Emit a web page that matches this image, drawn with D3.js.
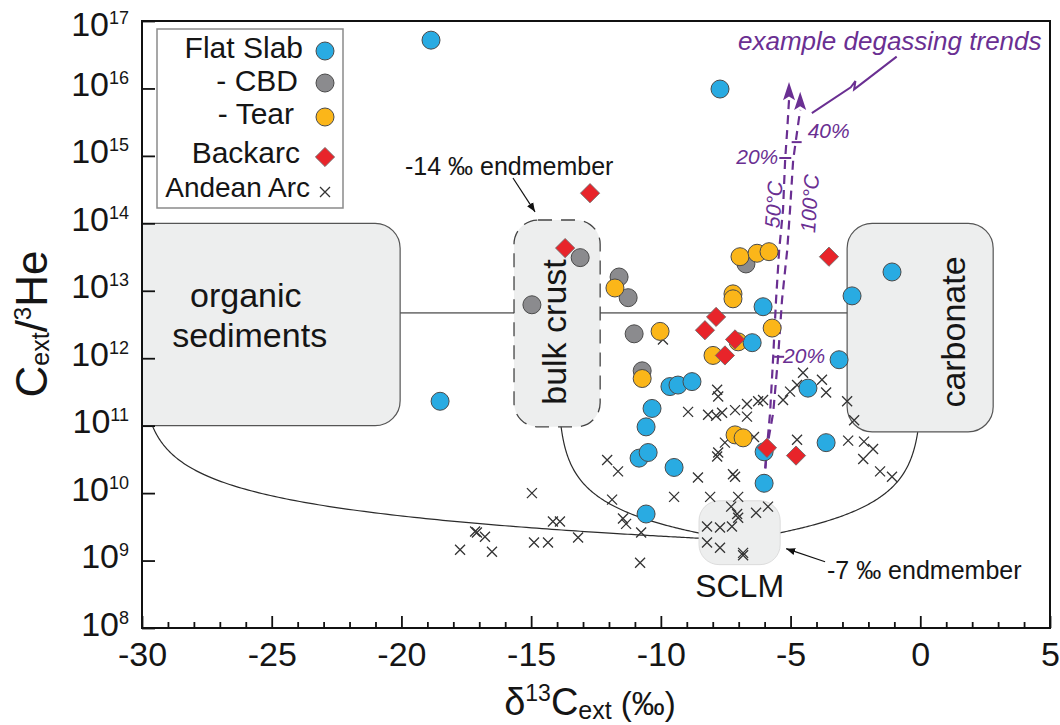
<!DOCTYPE html>
<html>
<head>
<meta charset="utf-8">
<script src="https://cdn.jsdelivr.net/npm/d3@7"></script>
<style>
  body { margin: 0; background: #fff; }
  svg { display: block; font-family: "Liberation Sans", Arial, sans-serif; }
</style>
</head>
<body>
<svg id="chart" width="1060" height="725"></svg>
<script>
// ---- data: [δ13C_ext (‰), C_ext/3He] ----
const flatSlab = [
  [-18.86, 5.2e16], [-7.72, 9.8e15], [-18.51, 2.3e11], [-1.09, 1.9e13], [-2.63, 8.4e12],
  [-6.06, 5.8e12], [-6.48, 1.7e12], [-3.13, 9.5e11], [-4.33, 3.6e11], [-3.63, 5.6e10],
  [-6.02, 4.1e10], [-6.02, 1.4e10], [-9.65, 3.8e11], [-9.34, 4.0e11], [-8.80, 4.5e11],
  [-10.34, 1.8e11], [-10.57, 9.6e10], [-10.84, 3.3e10], [-10.49, 4.0e10], [-9.49, 2.4e10],
  [-10.57, 4.9e9]
];
const cbd = [
  [-13.11, 3.1e13], [-11.61, 1.6e13], [-11.26, 7.9e12], [-14.97, 6.2e12], [-11.03, 2.3e12],
  [-10.72, 6.5e11], [-6.72, 2.5e13]
];
const tear = [
  [-11.77, 1.1e13], [-10.03, 2.5e12], [-6.95, 3.2e13], [-6.29, 3.6e13], [-5.83, 3.8e13],
  [-7.22, 9.0e12], [-7.22, 7.6e12], [-5.71, 2.8e12], [-7.99, 1.1e12], [-7.02, 1.75e12],
  [-10.72, 5.0e11], [-7.14, 7.3e10], [-6.83, 6.6e10]
];
const backarc = [
  [-12.73, 2.8e14], [-13.69, 4.3e13], [-3.52, 3.2e13], [-7.87, 4.1e12], [-8.30, 2.6e12],
  [-7.14, 1.9e12], [-7.53, 1.1e12], [-5.91, 4.7e10], [-4.79, 3.6e10]
];
const andeanArc = [
  [-9.92, 1.9e12], [-7.83, 3.4e11], [-7.79, 2.7e11], [-8.95, 1.6e11], [-8.18, 1.45e11],
  [-7.87, 1.4e11], [-7.64, 1.55e11], [-7.14, 1.7e11], [-6.68, 2.1e11], [-6.68, 1.36e11],
  [-6.25, 2.3e11], [-6.06, 2.4e11], [-5.29, 2.4e11], [-5.02, 3.2e11], [-4.75, 4.0e11],
  [-4.52, 6.1e11], [-3.79, 4.8e11], [-3.63, 3.1e11], [-2.82, 2.3e11], [-2.55, 1.2e11],
  [-7.53, 5.6e10], [-7.79, 4.0e10], [-7.83, 3.5e10], [-6.41, 6.8e10], [-4.75, 6.2e10],
  [-2.78, 6.0e10], [-2.17, 5.8e10], [-1.82, 4.5e10], [-2.20, 3.2e10], [-1.55, 2.1e10],
  [-1.09, 1.75e10], [-12.07, 3.1e10], [-11.65, 2.1e10], [-8.57, 1.7e10], [-7.22, 1.9e10],
  [-7.14, 1.75e10], [-14.97, 1.0e10], [-11.88, 8.0e9], [-9.49, 8.8e9], [-8.10, 8.8e9],
  [-7.02, 8.8e9], [-7.29, 6.3e9], [-7.06, 4.9e9], [-7.02, 4.3e9], [-6.33, 5.1e9],
  [-5.87, 6.3e9], [-11.46, 4.2e9], [-11.34, 3.5e9], [-14.16, 3.8e9], [-13.89, 3.8e9],
  [-17.16, 2.7e9], [-17.09, 2.6e9], [-16.78, 2.25e9], [-17.74, 1.45e9], [-16.51, 1.35e9],
  [-14.89, 1.85e9], [-14.35, 1.85e9], [-13.19, 2.2e9], [-10.76, 2.6e9], [-8.22, 3.2e9],
  [-7.72, 3.1e9], [-7.26, 3.2e9], [-8.22, 1.85e9], [-7.72, 1.55e9], [-6.83, 1.3e9],
  [-6.83, 1.2e9], [-10.80, 9.3e8]
];

// degassing trends (last point = arrow tip)
const trend50C = [
  [-6.02, 1.4e10], [-5.91, 4.7e10], [-5.79, 1.55e11], [-5.67, 1.05e12], [-5.56, 7.3e12],
  [-5.44, 4.0e13], [-5.29, 1.6e14], [-5.21, 8.7e14], [-5.13, 2.4e15], [-5.06, 6.7e15],
  [-5.06, 1.25e16]
];
const trend100C = [
  [-6.02, 1.4e10], [-5.91, 4.7e10], [-5.67, 1.55e11], [-5.48, 1.05e12], [-5.33, 7.3e12],
  [-5.13, 4.0e13], [-5.02, 1.6e14], [-4.90, 8.7e14], [-4.71, 2.9e15], [-4.63, 4.8e15],
  [-4.63, 8.9e15]
];
const marks50C = [["20%", 9.3e14]];
const marks100C = [["40%", 1.6e15], ["20%", 1.05e12]];

// endmembers [δ13C, C/3He]
const emOrganic = [-29.6, 1e11];
const emCrust = [-13.85, 1e11];
const emCarbonate = [-0.1, 8e10];
const emSCLM = [-7, 2e9];

// source fields [δmin, δmax, C/3He min, C/3He max]
const fieldOrganic = [-31.5, -20.05, 1e11, 1e14];
const fieldCrust = [-15.66, -12.34, 9.6e10, 1.12e14];
const fieldCarbonate = [-2.82, 2.81, 8.1e10, 1.0e14];
const fieldSCLM = [-8.53, -5.40, 8.7e8, 7.7e9];

// organic–carbonate reference line
const refLineD13C = [-30, 0];
const refLineCHe = 4.7e12;

const xTicks = [-30, -25, -20, -15, -10, -5, 0, 5];
const yExponents = [8, 9, 10, 11, 12, 13, 14, 15, 16, 17];

const legendItems = [
  { label: "Flat Slab", kind: "circle", color: "#29abe2" },
  { label: "- CBD", kind: "circle", color: "#8b8b8e" },
  { label: "- Tear", kind: "circle", color: "#fbb619" },
  { label: "Backarc", kind: "diamond", color: "#e8242a" },
  { label: "Andean Arc", kind: "cross", color: "#333" }
];

// ---- layout ----
const m = { left: 142, right: 1050, top: 21, bottom: 628 };
const purple = "#6a2f92";
const fieldFill = "#edeeee";

const x = d3.scaleLinear().domain([-30, 5]).range([m.left, m.right]);
const y = d3.scaleLog().domain([1e8, 1e17]).range([m.bottom, m.top]);
const line = d3.line().x(d => x(d[0])).y(d => y(d[1]));

const svg = d3.select("#chart");
const defs = svg.append("defs");
defs.append("clipPath").attr("id", "plot-clip")
  .append("rect").attr("x", m.left).attr("y", m.top)
  .attr("width", m.right - m.left).attr("height", m.bottom - m.top);
defs.append("marker").attr("id", "arrow-black")
  .attr("viewBox", "0 0 10 10").attr("refX", 10).attr("refY", 5)
  .attr("markerWidth", 9).attr("markerHeight", 9).attr("markerUnits", "userSpaceOnUse")
  .attr("orient", "auto")
  .append("path").attr("d", "M0,1 L10,5 L0,9 Z").attr("fill", "#111");

const plot = svg.append("g").attr("clip-path", "url(#plot-clip)");

// reference line between organic sediments and carbonate
plot.append("line")
  .attr("x1", x(refLineD13C[0])).attr("x2", x(refLineD13C[1]))
  .attr("y1", y(refLineCHe)).attr("y2", y(refLineCHe))
  .attr("stroke", "#7d7d7d").attr("stroke-width", 1.6);

// binary mixing curves towards the SCLM endmember
function mixCurve(a, b) {
  const pts = [];
  for (let i = 0; i <= 300; i++) {
    const f = Math.pow(10, -5 * i / 300);
    const R = f * a[1] + (1 - f) * b[1];
    const d = (f * a[1] * a[0] + (1 - f) * b[1] * b[0]) / R;
    pts.push([d, R]);
  }
  pts.push(b);
  return pts;
}
[emOrganic, emCrust, emCarbonate].forEach(em => {
  plot.append("path").datum(mixCurve(em, emSCLM)).attr("d", line)
    .attr("fill", "none").attr("stroke", "#2b2b2b").attr("stroke-width", 1.2);
});

// source fields
function field(f, r, opts) {
  return plot.append("rect")
    .attr("x", x(f[0])).attr("y", y(f[3]))
    .attr("width", x(f[1]) - x(f[0])).attr("height", y(f[2]) - y(f[3]))
    .attr("rx", r).attr("ry", r)
    .attr("fill", fieldFill)
    .attr("stroke", opts.stroke).attr("stroke-width", opts.width)
    .attr("stroke-dasharray", opts.dash || null);
}
field(fieldOrganic, 25, { stroke: "#555", width: 1.2 });
field(fieldCrust, 24, { stroke: "#444", width: 1.3, dash: "14 9" });
field(fieldCarbonate, 25, { stroke: "#555", width: 1.2 });
field(fieldSCLM, 20, { stroke: "#d6d6d6", width: 0.8 });

const labels = svg.append("g").attr("fill", "#151515");
labels.append("text").attr("x", x(-26.0)).attr("y", 307).attr("text-anchor", "middle")
  .attr("font-size", 34).text("organic");
labels.append("text").attr("x", x(-25.85)).attr("y", 347).attr("text-anchor", "middle")
  .attr("font-size", 34).text("sediments");
labels.append("text")
  .attr("transform", `translate(${(x(fieldCrust[0]) + x(fieldCrust[1])) / 2 + 9},332) rotate(-90)`)
  .attr("text-anchor", "middle").attr("font-size", 34).text("bulk crust");
labels.append("text")
  .attr("transform", `translate(${(x(fieldCarbonate[0]) + x(fieldCarbonate[1])) / 2 + 45},332) rotate(-90)`)
  .attr("text-anchor", "middle").attr("font-size", 34).text("carbonate");
labels.append("text").attr("x", (x(fieldSCLM[0]) + x(fieldSCLM[1])) / 2).attr("y", 597)
  .attr("text-anchor", "middle").attr("font-size", 32).text("SCLM");

// degassing trends
const trendG = svg.append("g");
function pointAt(pts, c) {
  const lc = Math.log10(c);
  for (let i = 0; i < pts.length - 1; i++) {
    const l0 = Math.log10(pts[i][1]), l1 = Math.log10(pts[i + 1][1]);
    if (lc >= l0 && lc <= l1) {
      const t = (lc - l0) / (l1 - l0);
      return [pts[i][0] + t * (pts[i + 1][0] - pts[i][0]), c];
    }
  }
  return pts[pts.length - 1];
}
function drawTrend(pts) {
  const body = pts.slice(0, -1);
  trendG.append("path").datum(body).attr("d", line)
    .attr("fill", "none").attr("stroke", purple).attr("stroke-width", 2.2)
    .attr("stroke-dasharray", "9 6");
  const base = body[body.length - 1], tip = pts[pts.length - 1];
  const bx = x(base[0]), by = y(base[1]), tx = x(tip[0]), ty = y(tip[1]);
  const ang = Math.atan2(ty - by, tx - bx);
  const hw = 6;
  const px = -Math.sin(ang) * hw, py = Math.cos(ang) * hw;
  trendG.append("path")
    .attr("d", `M${tx},${ty} L${bx + px},${by + py} L${bx + (tx - bx) * 0.2},${by + (ty - by) * 0.2} L${bx - px},${by - py} Z`)
    .attr("fill", purple);
}
drawTrend(trend50C);
drawTrend(trend100C);

function tickMark(pts, c, left, right) {
  const p = pointAt(pts, c);
  trendG.append("line")
    .attr("x1", x(p[0]) - left).attr("x2", x(p[0]) + right)
    .attr("y1", y(p[1])).attr("y2", y(p[1]))
    .attr("stroke", purple).attr("stroke-width", 2);
  return [x(p[0]), y(p[1])];
}
const purpleText = trendG.append("g").attr("fill", purple)
  .attr("font-style", "italic").attr("font-size", 21);
marks50C.forEach(([lab, c]) => {
  const [px, py] = tickMark(trend50C, c, 6, 6);
  purpleText.append("text").attr("x", px - 7).attr("y", py + 6)
    .attr("text-anchor", "end").text(lab);
});
marks100C.forEach(([lab, c], i) => {
  const [px, py] = tickMark(trend100C, c, 4, 6);
  purpleText.append("text").attr("x", px + (i === 0 ? 12 : 5)).attr("y", py + (i === 0 ? -4 : 6))
    .text(lab);
});
purpleText.append("text").attr("transform", "translate(781,205) rotate(-86)")
  .attr("text-anchor", "middle").text("50°C");
purpleText.append("text").attr("transform", "translate(817,204) rotate(-86)")
  .attr("text-anchor", "middle").text("100°C");
purpleText.append("text").attr("x", 738).attr("y", 50).attr("font-size", 26)
  .text("example degassing trends");

// leader from the caption to the trends
const leader = [[-4.18, 4.3e15], [-2.68, 1.04e16], [-2.50, 1.29e16], [-2.55, 9.7e15], [-0.91, 2.96e16]];
trendG.append("path").datum(leader).attr("d", line)
  .attr("fill", "none").attr("stroke", purple).attr("stroke-width", 2);

// ---- data points ----
const pts = svg.append("g");
const crossPath = "M-5,-5L5,5M-5,5L5,-5";
function drawCross(sel, cx, cy) {
  sel.append("path").attr("transform", `translate(${cx},${cy})`).attr("d", crossPath)
    .attr("stroke", "#333").attr("stroke-width", 1.3).attr("fill", "none");
}
function drawCircle(sel, cx, cy, color) {
  sel.append("circle").attr("cx", cx).attr("cy", cy).attr("r", 9)
    .attr("fill", color).attr("stroke", "#4a4a4a").attr("stroke-width", 1);
}
function drawDiamond(sel, cx, cy, color) {
  sel.append("path").attr("transform", `translate(${cx},${cy}) rotate(45)`)
    .attr("d", "M-6.8,-6.8H6.8V6.8H-6.8Z")
    .attr("fill", color).attr("stroke", "#6a6a6a").attr("stroke-width", 0.8);
}
andeanArc.forEach(d => drawCross(pts, x(d[0]), y(d[1])));
cbd.forEach(d => drawCircle(pts, x(d[0]), y(d[1]), legendItems[1].color));
tear.forEach(d => drawCircle(pts, x(d[0]), y(d[1]), legendItems[2].color));
flatSlab.forEach(d => drawCircle(pts, x(d[0]), y(d[1]), legendItems[0].color));
backarc.forEach(d => drawDiamond(pts, x(d[0]), y(d[1]), legendItems[3].color));

// ---- endmember annotations ----
const ann = svg.append("g").attr("fill", "#151515").attr("font-size", 25);
ann.append("text").attr("x", 405).attr("y", 175).text("-14 ‰ endmember");
ann.append("path").datum([[-15.70, 4.7e14], [-14.85, 1.48e14]]).attr("d", line)
  .attr("stroke", "#111").attr("stroke-width", 1.2).attr("fill", "none")
  .attr("marker-end", "url(#arrow-black)");
ann.append("text").attr("x", 827).attr("y", 579).text("-7 ‰ endmember");
ann.append("path").datum([[-3.67, 9.6e8], [-5.17, 1.5e9]]).attr("d", line)
  .attr("stroke", "#111").attr("stroke-width", 1.2).attr("fill", "none")
  .attr("marker-end", "url(#arrow-black)");

// ---- axes ----
const xAxis = svg.append("g").attr("transform", `translate(0,${m.bottom})`)
  .call(d3.axisBottom(x).tickValues(xTicks).tickSizeInner(-12).tickSizeOuter(0)
    .tickPadding(14).tickFormat(d => String(d)));
const minorX = d3.range(-29, 5).filter(v => v % 5 !== 0);
const xMinor = svg.append("g").attr("transform", `translate(0,${m.bottom})`)
  .call(d3.axisBottom(x).tickValues(minorX).tickSizeInner(-6).tickSizeOuter(0).tickFormat(""));
const yAxis = svg.append("g").attr("transform", `translate(${m.left},0)`)
  .call(d3.axisLeft(y).tickValues(yExponents.map(e => Math.pow(10, e)))
    .tickSizeInner(-13).tickSizeOuter(0).tickPadding(13).tickFormat(""));
[xAxis, xMinor, yAxis].forEach(g => {
  g.select(".domain").remove();
  g.attr("font-family", null).attr("font-size", 34);
  g.selectAll(".tick line").attr("stroke", "#111").attr("stroke-width", 1.8);
  g.selectAll(".tick text").attr("fill", "#151515");
});
yAxis.selectAll(".tick").each(function (d) {
  const e = Math.round(Math.log10(d));
  const t = d3.select(this).select("text").attr("font-size", 34)
    .attr("dy", e === 17 ? 14 : 7);
  t.append("tspan").text("10");
  t.append("tspan").attr("font-size", 18).attr("dy", -12).text(e);
});

// plot frame
svg.append("rect").attr("x", m.left).attr("y", m.top)
  .attr("width", m.right - m.left).attr("height", m.bottom - m.top)
  .attr("fill", "none").attr("stroke", "#111").attr("stroke-width", 2);

// axis titles
const yt = svg.append("text").attr("transform", "translate(47,324) rotate(-90)")
  .attr("text-anchor", "middle").attr("font-size", 44).attr("fill", "#151515");
yt.append("tspan").text("C");
yt.append("tspan").attr("font-size", 25).attr("dy", 2).text("ext");
yt.append("tspan").attr("dy", -2).text("/");
yt.append("tspan").attr("font-size", 24).attr("dy", -16).text("3");
yt.append("tspan").attr("dy", 16).text("He");

const xt = svg.append("text").attr("x", 590).attr("y", 715)
  .attr("text-anchor", "middle").attr("font-size", 38).attr("fill", "#151515");
xt.append("tspan").text("δ");
xt.append("tspan").attr("font-size", 23).attr("dy", -14).text("13");
xt.append("tspan").attr("dy", 14).text("C");
xt.append("tspan").attr("font-size", 25).attr("dy", 4).text("ext");
xt.append("tspan").attr("font-size", 33).attr("dy", -4).text(" (‰)");

// ---- legend ----
const lg = svg.append("g");
lg.append("rect").attr("x", 157).attr("y", 29).attr("width", 186).attr("height", 179)
  .attr("fill", "#fff").attr("stroke", "#8a8a8a").attr("stroke-width", 1.5);
const legendBaselines = [58, 91, 124, 163, 197];
const legendTextEnd = [303, 298, 294, 300, 310];
const legendMarkY = [51, 83, 117, 157, 192];
legendItems.forEach((it, i) => {
  lg.append("text").attr("x", legendTextEnd[i]).attr("y", legendBaselines[i])
    .attr("text-anchor", "end").attr("font-size", i === 4 ? 28 : 30)
    .attr("fill", "#151515").text(it.label);
  if (it.kind === "circle") drawCircle(lg, 325, legendMarkY[i], it.color);
  else if (it.kind === "diamond") drawDiamond(lg, 325, legendMarkY[i], it.color);
  else drawCross(lg, 325, legendMarkY[i]);
});
</script>
</body>
</html>
